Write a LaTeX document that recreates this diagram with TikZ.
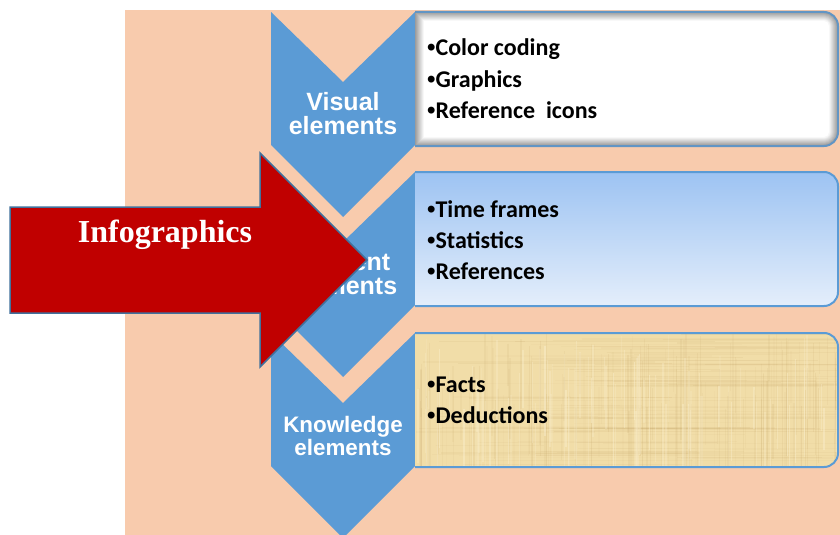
\documentclass[tikz,border=0pt]{standalone}
\usepackage{fontspec}
\setmainfont{Carlito}
\newfontfamily\labelfont{Liberation Sans}
\newfontfamily\titlefont{Liberation Serif}
\definecolor{peach}{HTML}{F8CBAD}
\definecolor{chev}{HTML}{5B9BD5}
\definecolor{boxline}{HTML}{5B9BD5}
\definecolor{arrowred}{HTML}{C00000}
\definecolor{arrowline}{HTML}{41719C}
\definecolor{skyTop}{HTML}{9DC3F2}
\definecolor{skyBot}{HTML}{E4EEFB}
\definecolor{papyrus}{HTML}{F1DDA8}
\definecolor{papyrusDark}{HTML}{BE9C5E}
\definecolor{papyrusLight}{HTML}{FBF0CF}
\newcommand\dotmark{{\labelfont\bfseries •}}
\tikzset{
  chevron/.style={fill=chev},
  chevlabel/.style={font=\labelfont\bfseries\fontsize{25}{27}\selectfont,
    text=white, anchor=base, inner sep=0pt},
  chevlabelsmall/.style={chevlabel, font=\labelfont\bfseries\fontsize{22.4}{25}\selectfont},
  itemtext/.style={font=\bfseries\fontsize{24}{31}\selectfont,
    anchor=base west, inner sep=0pt},
  boxedge/.style={draw=boxline, line width=2pt},
  bigarrow/.style={fill=arrowred, draw=arrowline, line width=1.5pt, line join=miter},
  arrowlabel/.style={font=\titlefont\bfseries\fontsize{32}{34}\selectfont,
    text=white, anchor=base, inner sep=0pt},
}
\begin{document}
\begin{tikzpicture}[x=1pt,y=-1pt]
\useasboundingbox (0,0) rectangle (840,535);
\fill[white] (0,0) rectangle (840,535);
\fill[peach] (125,10) rectangle (840,535);

% three chevrons
\foreach \T in {12,172,333}{
  \fill[chevron] (271,\T) -- (343,\T+70) -- (415,\T) -- (415,\T+133)
    -- (343,\T+205) -- (271,\T+133) -- cycle;
}
\node[chevlabel] (vis1) at (343,110) {Visual};
\node[chevlabel] (vis2) at (343,134) {elements};
\node[chevlabel] (con1) at (343,270) {Content};
\node[chevlabel] (con2) at (343,294) {elements};
\node[chevlabelsmall] (kno1) at (343,432) {Knowledge};
\node[chevlabelsmall] (kno2) at (343,455) {elements};

% first box: white with a soft grey inner rim
\foreach \i in {0,...,9}{
  \pgfmathsetmacro\w{min(100,22+9*\i)}
  \pgfmathsetmacro\r{max(14-\i,3)}
  \begin{scope}
    \clip (415+\i,0) rectangle (850,535);
    \fill[white!\w!gray, rounded corners=\r pt] (380,12+\i) rectangle (838-\i,146-\i);
  \end{scope}
}
\begin{scope}
  \clip (415,0) rectangle (850,535);
  \draw[boxedge, draw=boxline!80!gray, rounded corners=14pt] (380,12) rectangle (838,146);
\end{scope}

% second box: sky gradient
\begin{scope}
  \clip (415,0) rectangle (850,535);
  \shade[top color=skyTop, bottom color=skyBot, rounded corners=14pt] (380,172) rectangle (838,306);
  \draw[boxedge, rounded corners=14pt] (380,172) rectangle (838,306);
\end{scope}

% third box: papyrus with fine crossing fibres
\begin{scope}
  \clip (415,0) rectangle (850,535);
  \begin{scope}
    \clip[rounded corners=14pt] (380,333) rectangle (838,467);
    \fill[papyrus] (380,333) rectangle (838,467);
    \pgfmathsetseed{23}
    \foreach \k in {1,...,170}{
      \pgfmathsetmacro\xx{416+rnd*422}
      \pgfmathsetmacro\ya{333+rnd*80}
      \pgfmathsetmacro\yb{\ya+40+rnd*100}
      \pgfmathsetmacro\op{0.03+0.09*rnd}
      \pgfmathsetmacro\lw{0.5+1.5*rnd}
      \draw[papyrusDark, opacity=\op, line width=\lw pt] (\xx,\ya) -- (\xx,\yb);
    }
    \foreach \k in {1,...,110}{
      \pgfmathsetmacro\yy{334+rnd*132}
      \pgfmathsetmacro\xa{415+rnd*300}
      \pgfmathsetmacro\xb{\xa+60+rnd*250}
      \pgfmathsetmacro\op{0.03+0.08*rnd}
      \pgfmathsetmacro\lw{0.5+1.2*rnd}
      \draw[papyrusDark, opacity=\op, line width=\lw pt] (\xa,\yy) -- (\xb,\yy);
    }
    \foreach \k in {1,...,90}{
      \pgfmathsetmacro\xx{416+rnd*422}
      \pgfmathsetmacro\ya{333+rnd*80}
      \pgfmathsetmacro\yb{\ya+40+rnd*100}
      \pgfmathsetmacro\op{0.15+0.3*rnd}
      \pgfmathsetmacro\lw{0.6+1.6*rnd}
      \draw[papyrusLight, opacity=\op, line width=\lw pt] (\xx,\ya) -- (\xx,\yb);
    }
  \end{scope}
  \draw[boxedge, rounded corners=14pt] (380,333) rectangle (838,467);
\end{scope}

% bullet lists
\node[itemtext] (a1) at (427,56)  {\dotmark Color coding};
\node[itemtext] (a2) at (427,87)  {\dotmark Graphics};
\node[itemtext] (a3) at (427,118) {\dotmark Reference\hspace{0.45em}icons};
\node[itemtext] (b1) at (427,217) {\dotmark Time frames};
\node[itemtext] (b2) at (427,248) {\dotmark Statistics};
\node[itemtext] (b3) at (427,279) {\dotmark References};
\node[itemtext] (c1) at (427,392) {\dotmark Facts};
\node[itemtext] (c2) at (427,423) {\dotmark Deductions};

% the big red arrow
\draw[bigarrow] (10,207) -- (260,207) -- (260,153) -- (367,260)
  -- (260,367) -- (260,313) -- (10,313) -- cycle;
\node[arrowlabel] (info) at (165,242) {Infographics};
\end{tikzpicture}
\end{document}
